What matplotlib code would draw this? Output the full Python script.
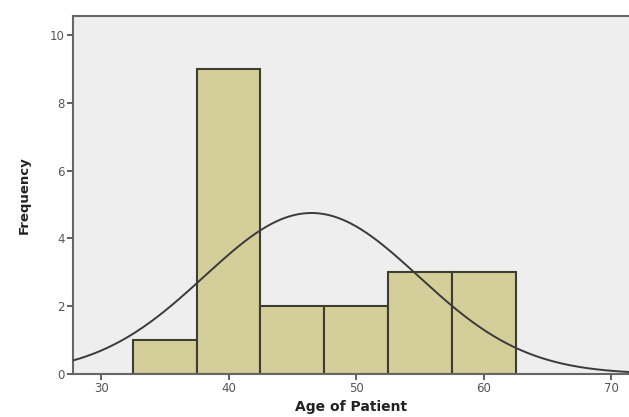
import numpy as np
import matplotlib
matplotlib.use("Agg")
import matplotlib.pyplot as plt

bin_edges = [32.5, 37.5, 42.5, 47.5, 52.5, 57.5, 62.5]
counts = [1, 9, 2, 2, 3, 3]
mean_age = 46.5
std_age = 8.4
n_patients = 20
x_ticks = [30, 40, 50, 60, 70]
y_ticks = [0, 2, 4, 6, 8, 10]

fig = plt.figure(figsize=(6.29, 4.17), dpi=100)
fig.patch.set_facecolor("white")
ax = fig.add_axes([73/629, 1 - 374/417, 1 - 73/629, (374 - 16)/417])
ax.set_facecolor("#EEEEEE")

widths = np.diff(bin_edges)
ax.bar(bin_edges[:-1], counts, width=widths, align="edge",
       color="#D4CF9A", edgecolor="#3E3E30", linewidth=1.5, zorder=2)

xs = np.linspace(27.8, 71.4, 400)
bw = widths[0]
ys = n_patients * bw / (std_age * np.sqrt(2 * np.pi)) * np.exp(-0.5 * ((xs - mean_age) / std_age) ** 2)
ax.plot(xs, ys, color="#3A3A3A", linewidth=1.4, zorder=3)

ax.set_xlim(27.8, 71.4)
ax.set_ylim(0, 10.56)
ax.set_xticks(x_ticks)
ax.set_yticks(y_ticks)
ax.tick_params(axis="both", direction="out", length=4, width=1.2, color="#444444",
               labelsize=8.5, labelcolor="#555555", pad=2)
for s in ["left", "top", "bottom"]:
    ax.spines[s].set_color("#666666")
    ax.spines[s].set_linewidth(1.5)
ax.spines["right"].set_visible(False)

ax.set_xlabel("Age of Patient", fontsize=10, fontweight="bold", color="#222222", labelpad=3)
ax.set_ylabel("Frequency", fontsize=9.5, fontweight="bold", color="#222222", labelpad=14)

fig.savefig("out.png", dpi=100)
